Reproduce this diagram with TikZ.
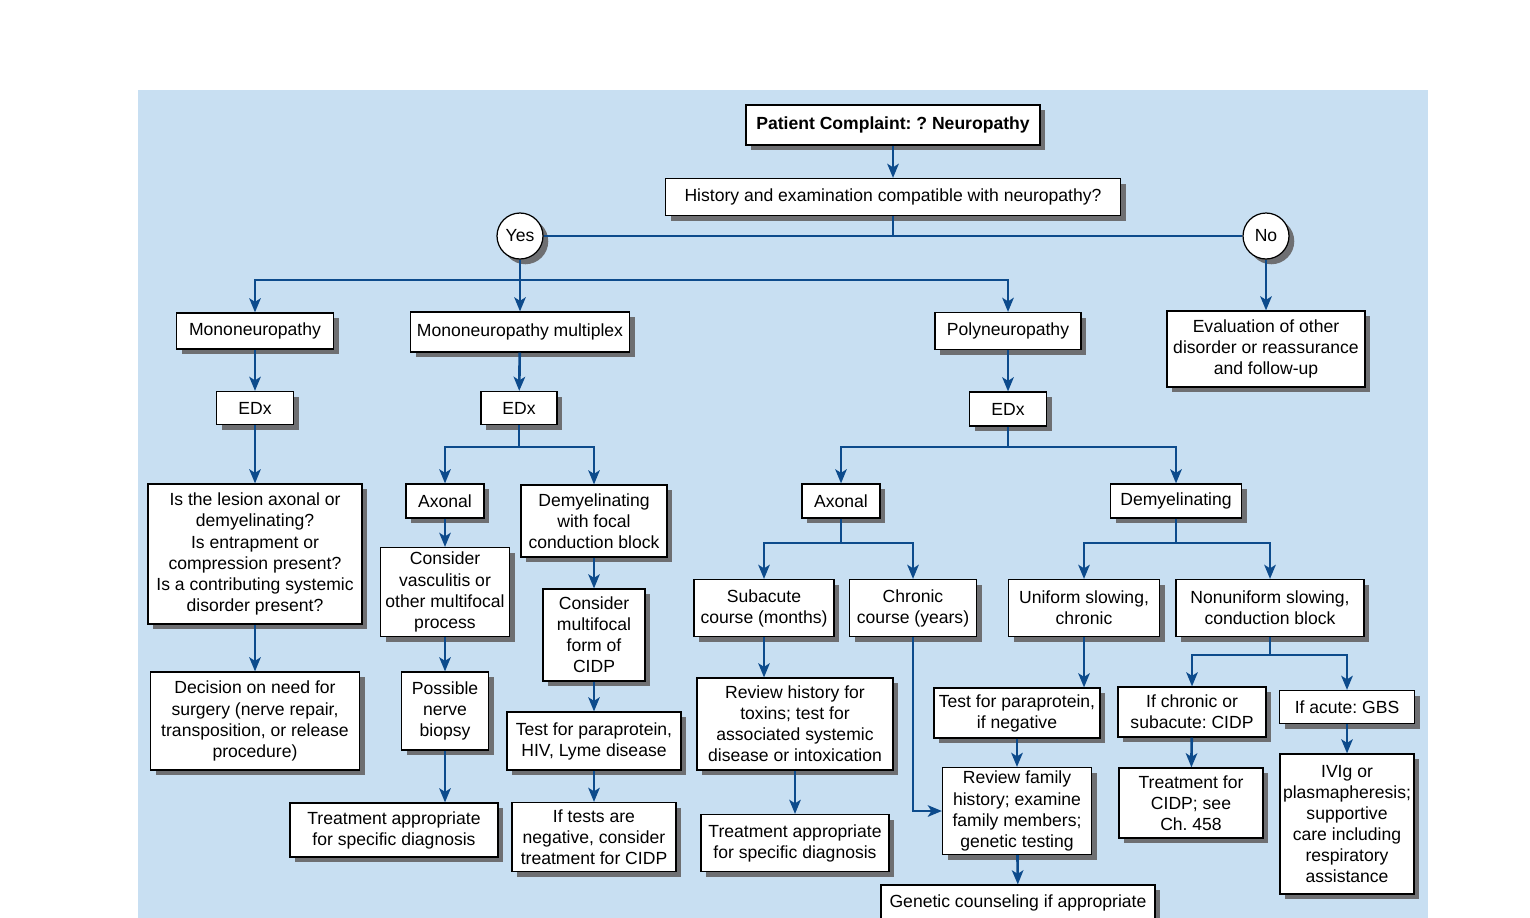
\documentclass[tikz,border=0pt]{standalone}
\usepackage{fontspec}
\setmainfont{Liberation Sans}
\usepackage{tikz}
\usetikzlibrary{arrows.meta,positioning,calc,shadows}
\definecolor{panelblue}{HTML}{C8DFF2}
\definecolor{flowblue}{HTML}{0D4B8C}
\definecolor{shadowgray}{HTML}{6E6F72}
\frenchspacing

\begin{document}
\begin{tikzpicture}[x=0.02cm, y=-0.02cm,
  font=\fontsize{10}{12}\selectfont,
  box/.style={draw=black, line width=0.7pt, fill=white, align=center, inner sep=1pt,
    drop shadow={shadow xshift=3pt, shadow yshift=-3pt, fill=shadowgray, opacity=1}},
  answer/.style={box, circle, minimum size=46*0.569pt},
  bw/.style={minimum width=#1*0.569pt},
  bh/.style={minimum height=#1*0.569pt},
  link/.style={flowblue, line width=1.5pt},
  arr/.style={link, -{Stealth[length=8pt, width=6.5pt, inset=2pt]}}]
\useasboundingbox (0,0) rectangle (1530,917);
\clip (0,0) rectangle (1530,917);
\fill[panelblue] (138,90) rectangle (1428,930);

% top of the chart
\node[box, bw=294, bh=40, font=\fontsize{10}{12}\selectfont\bfseries] (complaint) at (893,125) {Patient Complaint: ? Neuropathy};
\node[box, bw=455, bh=37] (history) at (893,197) {History and examination compatible with neuropathy?};
\node[answer] (yes) at (520,236) {Yes};
\node[answer] (no) at (1266,236) {No};

% first level
\node[box, bw=157, bh=36] (mono) at (255,331) {Mononeuropathy};
\node[box, bw=219, bh=40] (multiplex) at (520,332) {Mononeuropathy multiplex};
\node[box, bw=146, bh=37] (poly) at (1008,331) {Polyneuropathy};
\node[box, bw=198, bh=76] (other) at (1266,349) {Evaluation of other\\disorder or reassurance\\and follow-up};
\node[box, bw=77, bh=33] (edxmono) at (255,408) {EDx};
\node[box, bw=76, bh=33] (edxmulti) at (519,408) {EDx};
\node[box, bw=77, bh=34] (edxpoly) at (1008,409) {EDx};

% mononeuropathy
\node[box, bw=214, bh=140] (lesion) at (255,554) {Is the lesion axonal or\\demyelinating?\\Is entrapment or\\compression present?\\Is a contributing systemic\\disorder present?};
\node[box, bw=209, bh=98] (surgery) at (255,721) {Decision on need for\\surgery (nerve repair,\\transposition, or release\\procedure)};

% mononeuropathy multiplex
\node[box, bw=78, bh=34] (axmulti) at (445,501) {Axonal};
\node[box, bw=146, bh=72] (focal) at (594,521) {Demyelinating\\with focal\\conduction block};
\node[box, bw=129, bh=89] (vasc) at (445,592) {Consider\\vasculitis or\\other multifocal\\process};
\node[box, bw=102, bh=92] (mcidp) at (594,635) {Consider\\multifocal\\form of\\CIDP};
\node[box, bw=87, bh=78] (biopsy) at (445,711) {Possible\\nerve\\biopsy};
\node[box, bw=174, bh=58] (hiv) at (594,741) {Test for paraprotein,\\HIV, Lyme disease};
\node[box, bw=208, bh=54] (treatmulti) at (394,830) {Treatment appropriate\\for specific diagnosis};
\node[box, bw=164, bh=69] (negative) at (594,837) {If tests are\\negative, consider\\treatment for CIDP};

% polyneuropathy
\node[box, bw=78, bh=34] (axpoly) at (841,501) {Axonal};
\node[box, bw=131, bh=34] (dempoly) at (1176,501) {Demyelinating};
\node[box, bw=140, bh=57] (subacute) at (764,608) {Subacute\\course (months)};
\node[box, bw=127, bh=57] (chronic) at (913,608) {Chronic\\course (years)};
\node[box, bw=151, bh=57] (uniform) at (1084,608) {Uniform slowing,\\chronic};
\node[box, bw=188, bh=57] (nonuniform) at (1270,608) {Nonuniform slowing,\\conduction block};
\node[box, bw=196, bh=92] (toxins) at (795,724) {Review history for\\toxins; test for\\associated systemic\\disease or intoxication};
\node[box, bw=188, bh=57] (treatpoly) at (795,843) {Treatment appropriate\\for specific diagnosis};
\node[box, bw=166, bh=50] (paraneg) at (1017,713) {Test for paraprotein,\\if negative};
\node[box, bw=149, bh=87] (family) at (1017,811) {Review family\\history; examine\\family members;\\genetic testing};
\node[box, bw=274, bh=36] (counsel) at (1018,903) {Genetic counseling if appropriate};
\node[box, bw=148, bh=50] (ifchronic) at (1192,712) {If chronic or\\subacute: CIDP};
\node[box, bw=135, bh=33] (gbs) at (1347,707) {If acute: GBS};
\node[box, bw=144, bh=70] (cidp) at (1191,803) {Treatment for\\CIDP; see\\Ch. 458};
\node[box, bw=134, bh=140] (ivig) at (1347,824) {IVIg or\\plasmapheresis;\\supportive\\care including\\respiratory\\assistance};

% connectors
\draw[arr] (complaint) -- (history);
\draw[link] (history) -- (history |- yes);
\draw[link] (yes) -- (no);
\coordinate (yesfork) at (520,280);
\draw[link] (yes) -- (yesfork);
\draw[arr] (yesfork) -| (mono);
\draw[arr] (yesfork) -- (multiplex);
\draw[arr] (yesfork) -| (poly);
\draw[arr] (no) -- (other);

\draw[arr] (mono) -- (edxmono);
\draw[arr] (edxmono) -- (lesion);
\draw[arr] (lesion) -- (surgery);

\draw[arr] (multiplex) -- (edxmulti);
\coordinate (multifork) at (519,447);
\draw[link] (edxmulti) -- (multifork);
\draw[arr] (multifork) -| (axmulti);
\draw[arr] (multifork) -| (focal);
\draw[arr] (axmulti) -- (vasc);
\draw[arr] (vasc) -- (biopsy);
\draw[arr] (biopsy) -- (biopsy |- treatmulti.north);
\draw[arr] (focal) -- (mcidp);
\draw[arr] (mcidp) -- (hiv);
\draw[arr] (hiv) -- (negative);

\draw[arr] (poly) -- (edxpoly);
\coordinate (polyfork) at (1008,447);
\draw[link] (edxpoly) -- (polyfork);
\draw[arr] (polyfork) -| (axpoly);
\draw[arr] (polyfork) -| (dempoly);
\coordinate (axfork) at (841,543);
\draw[link] (axpoly) -- (axfork);
\draw[arr] (axfork) -| (subacute);
\draw[arr] (axfork) -| (chronic);
\coordinate (demfork) at (1176,543);
\draw[link] (dempoly) -- (demfork);
\draw[arr] (demfork) -| (uniform);
\draw[arr] (demfork) -| (nonuniform);
\draw[arr] (subacute) -- (subacute |- toxins.north);
\draw[arr] (toxins) -- (treatpoly);
\draw[arr] (chronic) |- (family);
\draw[arr] (uniform) -- (uniform |- paraneg.north);
\draw[arr] (paraneg) -- (family);
\draw[arr] (family) -- (counsel);
\coordinate (nonfork) at (1270,655);
\draw[link] (nonuniform) -- (nonfork);
\draw[arr] (nonfork) -| (ifchronic);
\draw[arr] (nonfork) -| (gbs);
\draw[arr] (ifchronic) -- (cidp);
\draw[arr] (gbs) -- (ivig);
\end{tikzpicture}
\end{document}
